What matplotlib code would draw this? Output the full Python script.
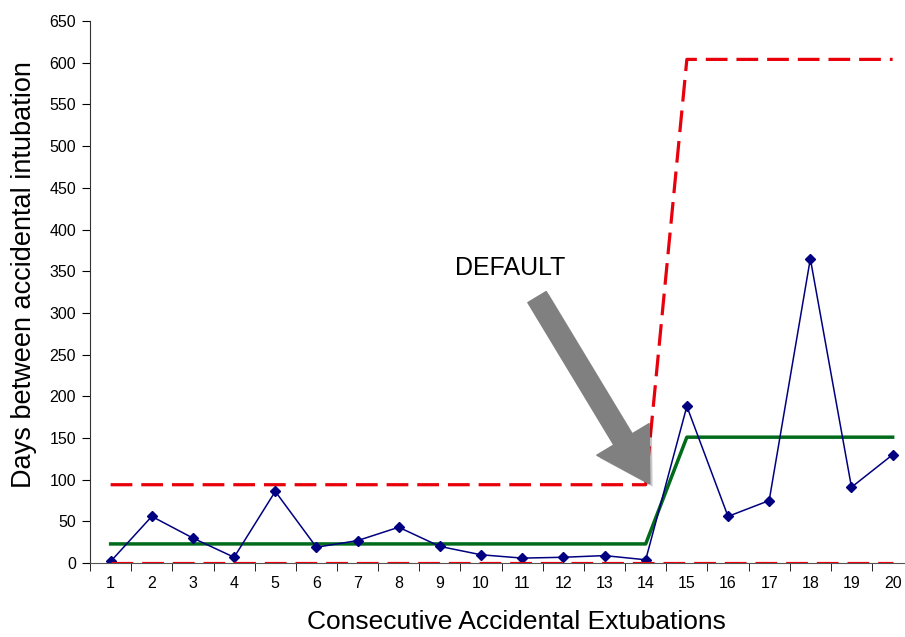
import matplotlib.pyplot as plt
import matplotlib.patheffects as pe
import numpy as np

plt.rcParams['font.family'] = ['Liberation Sans', 'DejaVu Sans']

# Data
events = np.arange(1, 21)
days = [2, 56, 30, 7, 86, 19, 27, 43, 20, 10, 6, 7, 9, 4, 188, 56, 75, 365, 91, 130]
center = [23] * 14 + [151] * 6
ucl = [94] * 14 + [604] * 6
lcl = [0] * 20

fig = plt.figure(figsize=(9.05, 6.37), dpi=100)
ax = fig.add_axes([0.0995, 0.116, 0.9005, 0.851])

# Limits and lines
ax.plot(events, ucl, color='#e8000b', lw=2.3, dashes=(6.8, 2.8))
ax.plot(events, lcl, color='#e8000b', lw=2.3, dashes=(6.8, 2.8), zorder=3)
ax.plot(events, center, color='#006b1a', lw=2.5)
ax.plot(events, days, color='#000080', lw=1.1, marker='D', markersize=5)

ax.set_xlim(0.5, 20.3)
ax.set_ylim(0, 650)
ax.set_yticks(np.arange(0, 651, 50))
ax.set_xticks(events)
ax.set_xticks(np.arange(0.5, 20.5, 1), minor=True)
ax.tick_params(axis='x', which='major', length=0, pad=9, labelsize=11.5)
ax.tick_params(axis='x', which='minor', length=6, direction='out')
ax.tick_params(axis='y', length=6, direction='out', labelsize=11.5, pad=4)

for s in ['top', 'right']:
    ax.spines[s].set_visible(False)
ax.spines['left'].set_color('#333333')
ax.spines['bottom'].set_color('#555555')

ax.set_xlabel('Consecutive Accidental Extubations', fontsize=19, labelpad=14)
ax.set_ylabel('Days between accidental intubation', fontsize=19.5, labelpad=9)
ax.xaxis.label.set_x(0.523)
ax.yaxis.label.set_y(0.533)

# Annotation with arrow
ax.annotate('', xy=(14.1, 95), xytext=(11.36, 319),
            arrowprops=dict(arrowstyle='simple,head_length=1.7,head_width=2.0,tail_width=0.7',
                            color='#808080', mutation_scale=22, shrinkA=0, shrinkB=0,
                            path_effects=[pe.SimplePatchShadow(offset=(2, -2), alpha=0.25),
                                          pe.Normal()]))
ax.text(10.7, 354, 'DEFAULT', fontsize=18, ha='center', va='center')

fig.savefig('out.png', dpi=100)
